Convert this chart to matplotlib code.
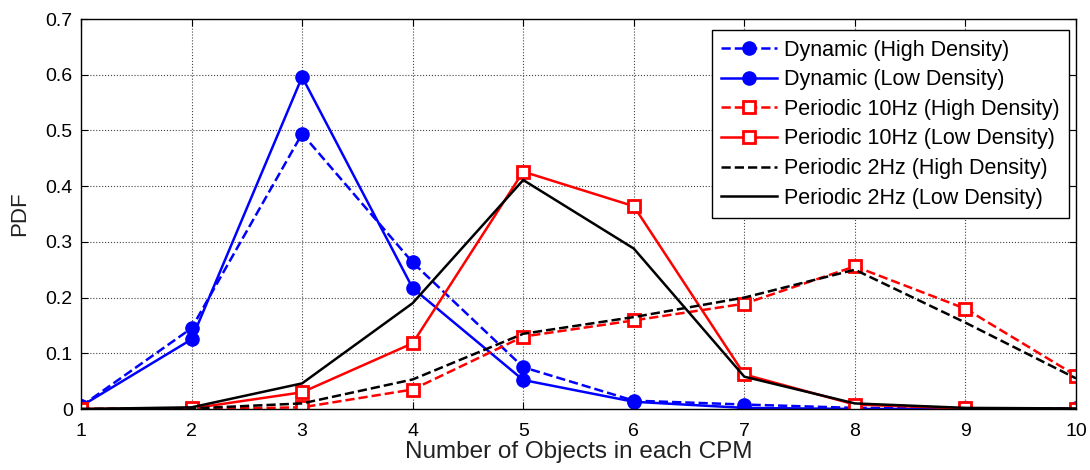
import matplotlib
matplotlib.use("Agg")
import matplotlib.pyplot as plt

plt.rcParams['font.family'] = ['Liberation Sans', 'DejaVu Sans']

objects = [1, 2, 3, 4, 5, 6, 7, 8, 9, 10]

dyn_high = [0.005, 0.145, 0.494, 0.263, 0.075, 0.015, 0.008, 0.002, 0.001, 0.001]
dyn_low = [0.005, 0.125, 0.596, 0.217, 0.052, 0.013, 0.002, 0.0, 0.0, 0.0]
p10_high = [0.0, 0.0, 0.003, 0.035, 0.130, 0.159, 0.189, 0.256, 0.180, 0.060]
p10_low = [0.0, 0.001, 0.030, 0.118, 0.426, 0.364, 0.062, 0.008, 0.001, 0.0]
p2_high = [0.0, 0.001, 0.010, 0.053, 0.135, 0.165, 0.200, 0.250, 0.155, 0.055]
p2_low = [0.0, 0.003, 0.046, 0.190, 0.411, 0.288, 0.058, 0.010, 0.002, 0.001]

fig = plt.figure(figsize=(10.9, 4.7), dpi=100)
ax = fig.add_axes([81 / 1090, 61 / 470, 995 / 1090, 390 / 470])

lw = 1.8
ax.plot(objects, dyn_high, '--', color='blue', lw=lw, marker='o', ms=9.5,
        label='Dynamic (High Density)')
ax.plot(objects, dyn_low, '-', color='blue', lw=lw, marker='o', ms=9.5,
        label='Dynamic (Low Density)')
ax.plot(objects, p10_high, '--', color='red', lw=lw, marker='s', ms=8.5,
        mfc='white', mew=2, label='Periodic 10Hz (High Density)')
ax.plot(objects, p10_low, '-', color='red', lw=lw, marker='s', ms=8.5,
        mfc='white', mew=2, label='Periodic 10Hz (Low Density)')
ax.plot(objects, p2_high, '--', color='black', lw=lw,
        label='Periodic 2Hz (High Density)')
ax.plot(objects, p2_low, '-', color='black', lw=lw,
        label='Periodic 2Hz (Low Density)')

ax.set_xlim(1, 10)
ax.set_ylim(0, 0.7)
ax.set_xticks(objects)
ax.set_yticks([0, 0.1, 0.2, 0.3, 0.4, 0.5, 0.6, 0.7])
ax.set_yticklabels(['0', '0.1', '0.2', '0.3', '0.4', '0.5', '0.6', '0.7'])
ax.tick_params(direction='in', labelsize=14, top=True, right=True, length=5, pad=6)
ax.tick_params(axis='x', pad=10)
ax.grid(True, color='#444444', linestyle=':', linewidth=0.8)
for s in ax.spines.values():
    s.set_linewidth(1.0)

ax.set_xlabel('Number of Objects in each CPM', fontsize=17.5, labelpad=1, color='#222222')
ax.set_ylabel('PDF', fontsize=16, labelpad=11, color='#222222')

leg = ax.legend(loc='upper right', bbox_to_anchor=(0.993, 0.972), borderaxespad=0,
                fontsize=15.5, fancybox=False, framealpha=1, edgecolor='black',
                handlelength=2.6, handletextpad=0.3, labelspacing=0.4,
                borderpad=0.45)
leg.get_frame().set_linewidth(1.0)

fig.savefig('out.png', dpi=100)
